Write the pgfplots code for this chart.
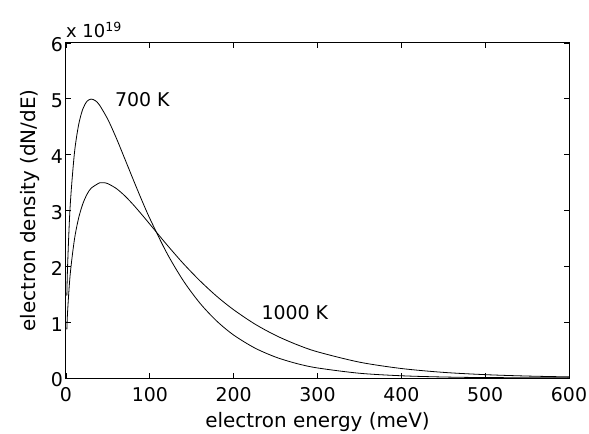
\documentclass[border=0pt]{standalone}
\usepackage{pgfplots}
\pgfplotsset{compat=1.18}
\usepackage{fontspec}
\setmainfont{DejaVu Sans}

% electron energy distribution (units of 1e19)
\pgfplotstableread{
E     n
1     1.475
2     2.052
5     3.087
10    4.019
15    4.530
20    4.815
25    4.955
30    4.995
35    4.967
40    4.888
50    4.629
60    4.297
70    3.931
80    3.561
90    3.199
100   2.857
120   2.246
140   1.741
160   1.336
180   1.017
200   0.769
225   0.539
250   0.375
275   0.260
300   0.180
350   0.085
400   0.040
450   0.018
500   0.008
600   0.002
}\tsevenhundred

\pgfplotstableread{
E     n
1     0.869
2     1.215
5     1.855
10    2.475
15    2.861
20    3.117
25    3.288
30    3.399
40    3.495
45    3.498
50    3.480
60    3.394
70    3.265
80    3.108
90    2.935
100   2.755
120   2.393
140   2.049
160   1.738
180   1.461
200   1.222
225   0.969
250   0.764
275   0.600
300   0.469
350   0.284
400   0.170
450   0.101
500   0.060
550   0.035
600   0.020
}\tthousand

\begin{document}
\begin{tikzpicture}
\begin{axis}[
    scale only axis,
    width=503bp,
    height=335bp,
    xmin=0, xmax=600,
    ymin=0, ymax=6,
    xtick={0,100,...,600},
    ytick={0,1,...,6},
    tick align=inside,
    major tick length=5bp,
    axis line style={line width=1bp},
    tick style={line width=0.8bp, black},
    every tick label/.append style={font=\fontsize{19}{21}\selectfont},
    /pgf/number format/assume math mode=true,
    xticklabel style={inner sep=0pt, anchor=north, yshift=-9bp},
    yticklabel style={inner sep=0pt, anchor=east, xshift=-3bp, yshift=-2bp},
    xlabel={electron energy (meV)},
    ylabel={electron density (dN/dE)},
    label style={font=\fontsize{20}{22}\selectfont},
    xlabel style={at={(axis description cs:0.5,-0.149)}, anchor=base, inner sep=0pt},
    ylabel style={at={(axis description cs:-0.0716,0.5)}, anchor=center, inner sep=0pt},
    clip=false,
]
\addplot[black, line width=0.8bp, smooth] table[x=E, y=n] {\tsevenhundred};
\addplot[black, line width=0.8bp, smooth] table[x=E, y=n] {\tthousand};
\node[font=\fontsize{19}{21}\selectfont] at (axis cs:91,4.98) {700 K};
\node[font=\fontsize{19}{21}\selectfont] at (axis cs:273,1.18) {1000 K};
\node[anchor=base west, inner sep=0pt, font=\fontsize{18}{20}\selectfont]
    at (rel axis cs:0,1) [yshift=5bp] {x 10\textsuperscript{19}};
\coordinate (O) at (rel axis cs:0,0);
\end{axis}
\pgfresetboundingbox
\path[use as bounding box] (O) ++(-66bp,-56bp) rectangle ++(589bp,434bp);
\end{tikzpicture}
\end{document}
